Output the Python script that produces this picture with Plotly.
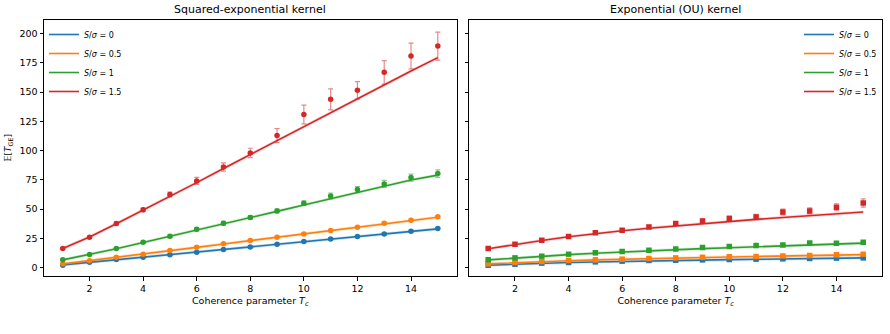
import plotly.graph_objects as go

# ---------------- data ----------------
tc = list(range(1, 16))
labels = ["0", "0.5", "1", "1.5"]
colors = ["#1f77b4", "#ff7f0e", "#2ca02c", "#d62728"]

# Squared-exponential kernel: simulated means
se_s0 = [2.0, 4.5, 6.8, 8.8, 10.8, 13.1, 15.4, 17.6, 19.9, 22.2, 24.4, 26.5, 28.7, 31.0, 33.3]
se_s05 = [3.1, 5.7, 8.8, 11.4, 14.5, 17.4, 20.2, 23.1, 25.9, 28.7, 31.6, 34.4, 37.9, 40.4, 43.3]
se_s1 = [6.5, 11.1, 16.2, 21.6, 26.8, 32.7, 37.9, 42.7, 48.4, 55.0, 61.2, 66.6, 71.5, 76.9, 80.3]
se_s15 = [16.2, 25.9, 37.6, 49.3, 62.4, 74.0, 86.0, 98.0, 112.8, 130.8, 143.8, 151.5, 166.9, 180.9, 189.4]
# error bar half-widths
se_e0 = [0.2, 0.3, 0.3, 0.4, 0.4, 0.5, 0.5, 0.5, 0.6, 0.6, 0.7, 0.7, 0.7, 0.8, 0.8]
se_e05 = [0.3, 0.4, 0.5, 0.5, 0.6, 0.6, 0.7, 0.7, 0.8, 0.8, 0.9, 0.9, 1.0, 1.0, 1.1]
se_e1 = [0.4, 0.6, 0.8, 1.0, 1.2, 1.4, 1.6, 1.6, 1.8, 2.0, 2.5, 2.5, 3.0, 3.0, 3.2]
se_e15 = [0.8, 1.0, 1.3, 1.5, 2.0, 3.0, 3.5, 4.0, 6.0, 8.0, 9.0, 7.5, 10.0, 11.0, 12.0]
# theory curves
se_t0 = [2.2, 4.4, 6.6, 8.8, 11.0, 13.2, 15.4, 17.6, 19.8, 22.0, 24.2, 26.4, 28.6, 30.8, 33.0]
se_t05 = [3.1, 5.8, 8.7, 11.5, 14.4, 17.2, 20.1, 22.9, 25.8, 28.6, 31.5, 34.3, 37.2, 40.0, 42.9]
se_t1 = [6.5, 11.0, 16.0, 21.4, 26.6, 32.0, 37.3, 42.6, 48.0, 53.4, 58.8, 64.2, 69.6, 74.8, 79.0]
se_t15 = [16.2, 26.0, 37.4, 49.0, 60.6, 72.6, 84.6, 96.5, 108.5, 120.5, 132.5, 144.5, 156.5, 168.0, 179.5]

# Exponential (OU) kernel: simulated means
ou_s0 = [2.0, 2.8, 3.7, 4.3, 4.8, 5.4, 6.0, 6.2, 6.5, 6.8, 7.1, 7.4, 7.7, 8.0, 8.2]
ou_s05 = [3.1, 4.3, 5.1, 6.0, 6.5, 7.1, 7.7, 8.2, 8.8, 9.1, 9.4, 9.9, 10.2, 10.8, 11.4]
ou_s1 = [6.5, 8.2, 9.7, 11.4, 12.5, 13.7, 14.8, 15.9, 17.1, 17.9, 18.8, 19.3, 21.0, 20.8, 21.6]
ou_s15 = [16.2, 19.9, 23.3, 26.5, 29.6, 31.9, 34.7, 37.6, 39.8, 41.9, 43.2, 47.5, 48.4, 51.5, 55.2]
ou_e0 = [0.1, 0.1, 0.1, 0.1, 0.1, 0.1, 0.2, 0.2, 0.2, 0.2, 0.2, 0.2, 0.2, 0.2, 0.2]
ou_e05 = [0.2, 0.2, 0.2, 0.2, 0.2, 0.3, 0.3, 0.3, 0.3, 0.3, 0.3, 0.3, 0.4, 0.4, 0.4]
ou_e1 = [0.3, 0.3, 0.4, 0.4, 0.5, 0.5, 0.5, 0.6, 0.6, 0.6, 0.7, 0.7, 0.7, 0.8, 0.8]
ou_e15 = [0.6, 0.8, 0.9, 1.0, 1.1, 1.2, 1.4, 1.5, 1.8, 2.0, 2.2, 2.5, 2.5, 3.0, 3.5]
ou_t0 = [2.0, 2.9, 3.6, 4.2, 4.7, 5.2, 5.6, 6.0, 6.4, 6.7, 7.0, 7.3, 7.6, 7.9, 8.2]
ou_t05 = [3.1, 4.2, 5.1, 5.8, 6.5, 7.1, 7.6, 8.1, 8.6, 9.0, 9.4, 9.8, 10.2, 10.6, 11.0]
ou_t1 = [6.5, 8.2, 9.7, 11.0, 12.2, 13.3, 14.3, 15.2, 16.1, 16.9, 17.7, 18.5, 19.3, 20.0, 20.8]
ou_t15 = [16.0, 19.7, 23.0, 26.3, 29.0, 31.4, 33.6, 35.6, 37.5, 39.3, 41.1, 42.8, 44.4, 45.9, 47.4]

y_ticks = [0, 25, 50, 75, 100, 125, 150, 175, 200]
x_ticks = [2, 4, 6, 8, 10, 12, 14]

# ---------------- figure ----------------
FONT = "DejaVu Sans"
fig = go.Figure()


def rgba(hexc, a):
    h = hexc.lstrip("#")
    return "rgba(%d,%d,%d,%s)" % (int(h[0:2], 16), int(h[2:4], 16), int(h[4:6], 16), a)


panels = [
    ("x", "y", "legend", "circle",
     [se_s0, se_s05, se_s1, se_s15], [se_e0, se_e05, se_e1, se_e15], [se_t0, se_t05, se_t1, se_t15]),
    ("x2", "y2", "legend2", "square",
     [ou_s0, ou_s05, ou_s1, ou_s15], [ou_e0, ou_e05, ou_e1, ou_e15], [ou_t0, ou_t05, ou_t1, ou_t15]),
]

for xa, ya, leg, sym, sims, errs, theos in panels:
    for lab, col, sim, err, theo in zip(labels, colors, sims, errs, theos):
        fig.add_trace(go.Scatter(
            x=tc, y=theo, mode="lines", xaxis=xa, yaxis=ya,
            line=dict(color=rgba(col, 0.18), width=3.2), showlegend=False, hoverinfo="skip"))
        fig.add_trace(go.Scatter(
            x=tc, y=theo, mode="lines", xaxis=xa, yaxis=ya,
            line=dict(color=col, width=1.6), legend=leg,
            name="<i>S</i>/<i>σ</i> = " + lab))
        fig.add_trace(go.Scatter(
            x=tc, y=sim, mode="markers", xaxis=xa, yaxis=ya, showlegend=False,
            marker=dict(color=col, symbol=sym, size=5.5),
            error_y=dict(type="data", array=err, color=rgba(col, 0.55), thickness=1.2, width=2.5)))

axis_common = dict(
    showline=True, linecolor="black", linewidth=1, mirror=True,
    ticks="outside", ticklen=3.5, tickwidth=0.8, tickcolor="black",
    showgrid=False, zeroline=False,
    tickfont=dict(family=FONT, size=9.5, color="black"),
)

fig.update_layout(
    width=890, height=334,
    margin=dict(l=42, r=7, t=20, b=58),
    paper_bgcolor="white", plot_bgcolor="white",
    font=dict(family=FONT, color="black"),
    xaxis=dict(domain=[0, 0.4923], range=[0.3, 15.7], tickvals=x_ticks,
               title=dict(text="Coherence parameter <i>T</i><sub><i>c</i></sub>",
                          font=dict(family=FONT, size=9.5), standoff=4),
               **axis_common),
    xaxis2=dict(domain=[0.5077, 1], range=[0.3, 15.7], tickvals=x_ticks,
                title=dict(text="Coherence parameter <i>T</i><sub><i>c</i></sub>",
                           font=dict(family=FONT, size=9.5), standoff=4),
                **axis_common),
    yaxis=dict(range=[-7.3, 211.7], tickvals=y_ticks, anchor="x",
               title=dict(text="𝔼[<i>T</i><sub>GE</sub>]", font=dict(family=FONT, size=9), standoff=6),
               **axis_common),
    yaxis2=dict(range=[-7.3, 211.7], tickvals=y_ticks, showticklabels=False, anchor="x2",
                matches="y", **axis_common),
    legend=dict(x=0.0, y=1.0, xanchor="left", yanchor="top",
                bgcolor="rgba(255,255,255,0.8)", borderwidth=0,
                font=dict(family=FONT, size=8), tracegroupgap=0, itemwidth=30),
    legend2=dict(x=1.0, y=1.0, xanchor="right", yanchor="top",
                 bgcolor="rgba(255,255,255,0.8)", borderwidth=0,
                 font=dict(family=FONT, size=8), tracegroupgap=0, itemwidth=30),
    annotations=[
        dict(text="Squared-exponential kernel", xref="x domain", yref="paper", x=0.5, y=1,
             yanchor="bottom", yshift=2, showarrow=False, font=dict(family=FONT, size=11)),
        dict(text="Exponential (OU) kernel", xref="x2 domain", yref="paper", x=0.5, y=1,
             yanchor="bottom", yshift=2, showarrow=False, font=dict(family=FONT, size=11)),
    ],
)

fig.write_html("out.html")
